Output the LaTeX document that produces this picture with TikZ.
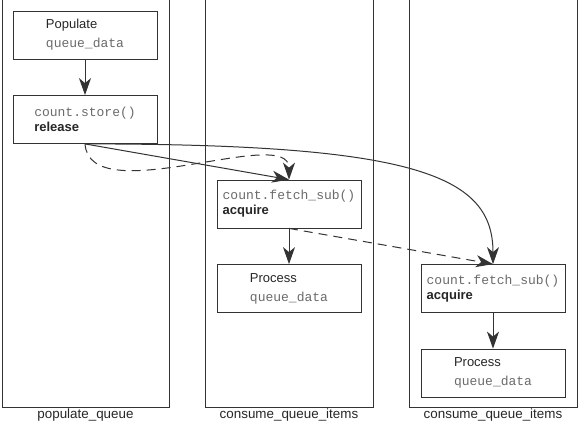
\documentclass[tikz,border=0pt]{standalone}
\usepackage{fontspec}
\setmainfont{Liberation Sans}
\setmonofont{Liberation Mono}
\usetikzlibrary{arrows.meta,positioning}

\definecolor{linegray}{HTML}{333333}
\definecolor{codegray}{HTML}{6A6A6A}
\newcommand{\code}[1]{{\ttfamily\color{codegray}#1}}

\tikzstyle{block} = [rectangle, minimum width=144pt, minimum height=48pt, align=left, draw=linegray, line width=0.8pt, text=black!85, font=\fontsize{13}{15}\selectfont]
\tikzstyle{lane} = [draw=linegray, line width=0.8pt]
\tikzstyle{lanelabel} = [text=black!85, font=\fontsize{13.4}{15}\selectfont]
\tikzstyle{arrow} = [draw=linegray, line width=1pt, -{Stealth[length=17pt,width=12pt,inset=5pt]}]
\tikzstyle{dashed_arrow} = [arrow, dash pattern=on 9pt off 6pt]

\begin{document}
\begin{tikzpicture}[x=1pt, y=1pt, node distance=84.5pt]

    \useasboundingbox (0,0) rectangle (580,-429);

    % Draw lanes
    \draw [lane] (2,0) -- (2,-407) -- (169,-407) -- (169,0);
    \draw [lane] (205,0) -- (205,-407) -- (373,-407) -- (373,0);
    \draw [lane] (409,0) -- (409,-407) -- (577,-407) -- (577,0);
    \node (populate_label) [lanelabel] at (85.5,-415) {populate\_queue};
    \node (consume_label_a) [lanelabel] at (289,-415) {consume\_queue\_items};
    \node (consume_label_b) [lanelabel] at (493,-415) {consume\_queue\_items};

    % Draw nodes
    \node (populate) [block] at (85,-35) {Populate\\[4pt]\code{queue\_data}};
    \node (store) [block, below of=populate] {\code{count.store()}\\\textbf{release}};
    \node (fetch_a) [block, below of=store, xshift=204pt] {\code{count.fetch\_sub()}\\\textbf{acquire}};
    \node (process_a) [block, below of=fetch_a] {Process\\[4pt]\code{queue\_data}};
    \node (fetch_b) [block, below of=fetch_a, xshift=204pt] {\code{count.fetch\_sub()}\\\textbf{acquire}};
    \node (process_b) [block, below of=fetch_b] {Process\\[4pt]\code{queue\_data}};

    % Draw connections
    \draw [arrow] (populate) -- (store);
    \draw [arrow] (store.south) -- (fetch_a.north);
    \draw [dashed_arrow] (store.south) .. controls ++(5,-68) and ++(0,56) .. (fetch_a.north);
    \draw [arrow] (store.south) .. controls ++(333,0) and ++(0,88) .. (fetch_b.north);
    \draw [arrow] (fetch_a) -- (process_a);
    \draw [dashed_arrow] (fetch_a.south) -- (fetch_b.north);
    \draw [arrow] (fetch_b) -- (process_b);

\end{tikzpicture}
\end{document}
